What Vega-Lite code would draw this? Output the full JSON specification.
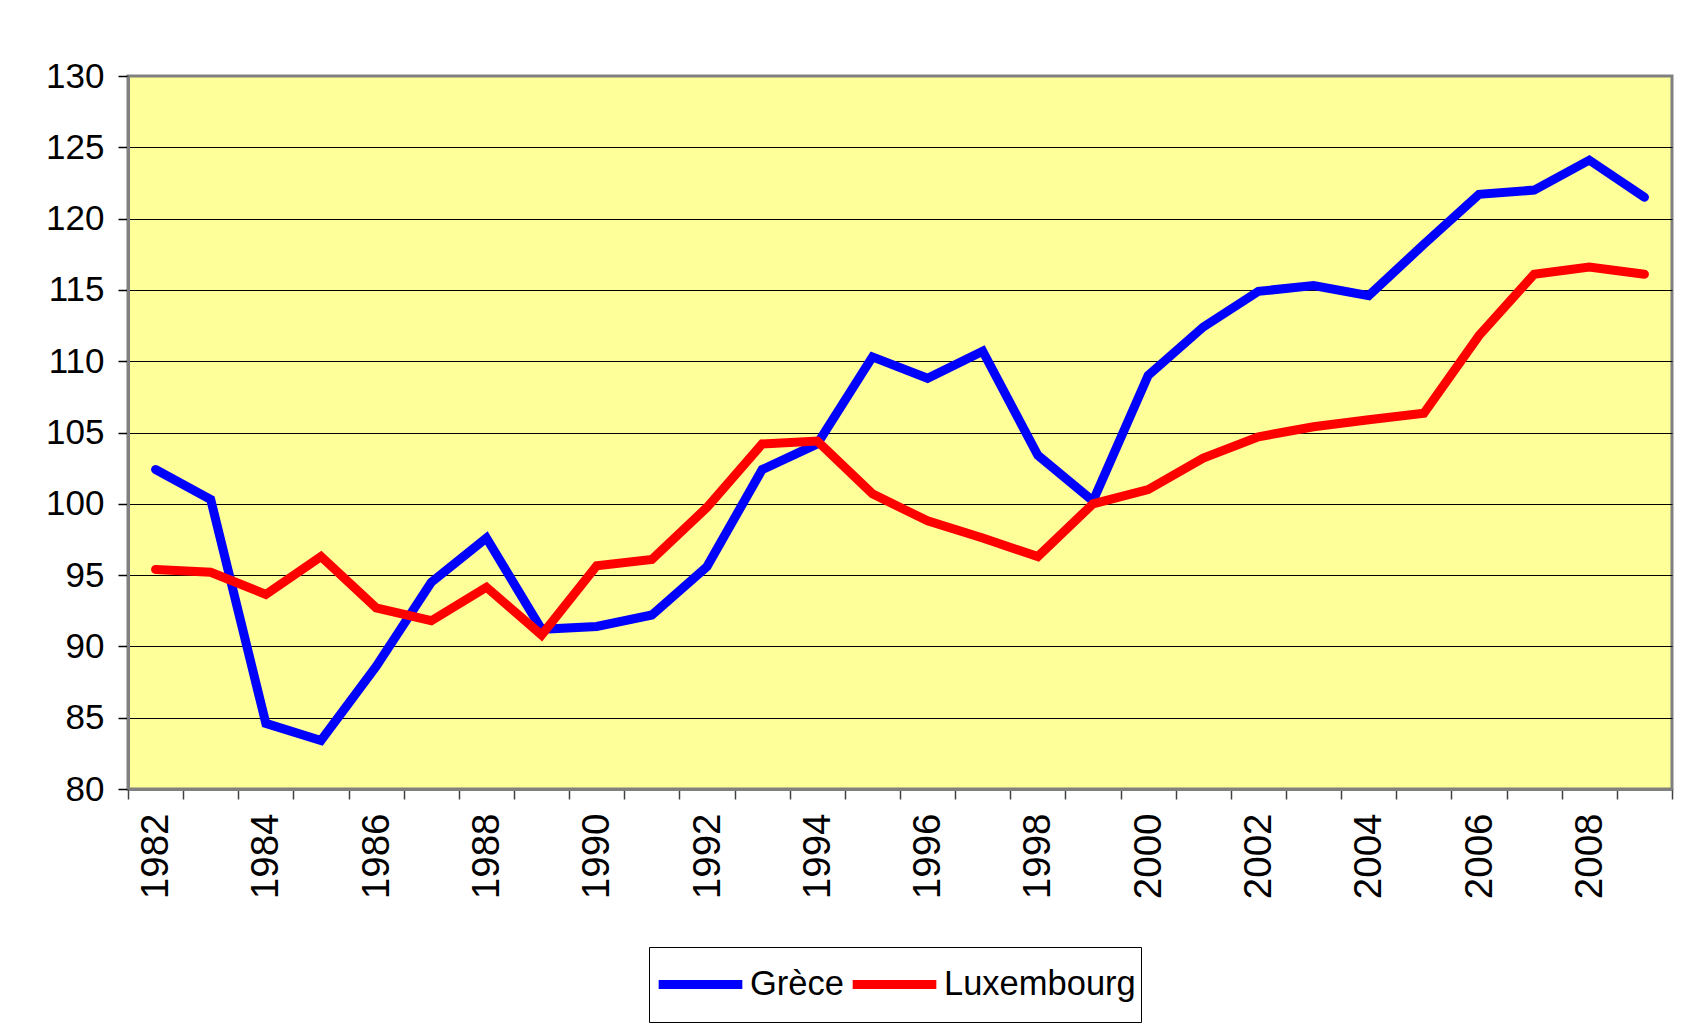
{
  "$schema": "https://vega.github.io/schema/vega-lite/v6.json",
  "width": 1544,
  "height": 713,
  "autosize": {"type": "none"},
  "padding": {"left": 128, "top": 76, "right": 23, "bottom": 243},
  "background": "white",
  "config": {
    "view": {"fill": "#FFFF99", "stroke": "#808080", "strokeWidth": 3},
    "font": "Liberation Sans"
  },
  "datasets": {
    "serie": [
      {"year": 1982, "pays": "Grèce", "value": 102.4},
      {"year": 1983, "pays": "Grèce", "value": 100.3},
      {"year": 1984, "pays": "Grèce", "value": 84.6},
      {"year": 1985, "pays": "Grèce", "value": 83.4},
      {"year": 1986, "pays": "Grèce", "value": 88.6},
      {"year": 1987, "pays": "Grèce", "value": 94.5},
      {"year": 1988, "pays": "Grèce", "value": 97.6},
      {"year": 1989, "pays": "Grèce", "value": 91.2},
      {"year": 1990, "pays": "Grèce", "value": 91.4},
      {"year": 1991, "pays": "Grèce", "value": 92.2},
      {"year": 1992, "pays": "Grèce", "value": 95.6},
      {"year": 1993, "pays": "Grèce", "value": 102.4},
      {"year": 1994, "pays": "Grèce", "value": 104.2},
      {"year": 1995, "pays": "Grèce", "value": 110.3},
      {"year": 1996, "pays": "Grèce", "value": 108.8},
      {"year": 1997, "pays": "Grèce", "value": 110.7},
      {"year": 1998, "pays": "Grèce", "value": 103.4},
      {"year": 1999, "pays": "Grèce", "value": 100.2},
      {"year": 2000, "pays": "Grèce", "value": 109.0},
      {"year": 2001, "pays": "Grèce", "value": 112.4},
      {"year": 2002, "pays": "Grèce", "value": 114.9},
      {"year": 2003, "pays": "Grèce", "value": 115.3},
      {"year": 2004, "pays": "Grèce", "value": 114.6},
      {"year": 2005, "pays": "Grèce", "value": 118.2},
      {"year": 2006, "pays": "Grèce", "value": 121.7},
      {"year": 2007, "pays": "Grèce", "value": 122.0},
      {"year": 2008, "pays": "Grèce", "value": 124.1},
      {"year": 2009, "pays": "Grèce", "value": 121.5},
      {"year": 1982, "pays": "Luxembourg", "value": 95.4},
      {"year": 1983, "pays": "Luxembourg", "value": 95.2},
      {"year": 1984, "pays": "Luxembourg", "value": 93.65},
      {"year": 1985, "pays": "Luxembourg", "value": 96.3},
      {"year": 1986, "pays": "Luxembourg", "value": 92.7},
      {"year": 1987, "pays": "Luxembourg", "value": 91.8},
      {"year": 1988, "pays": "Luxembourg", "value": 94.15},
      {"year": 1989, "pays": "Luxembourg", "value": 90.8},
      {"year": 1990, "pays": "Luxembourg", "value": 95.66},
      {"year": 1991, "pays": "Luxembourg", "value": 96.1},
      {"year": 1992, "pays": "Luxembourg", "value": 99.75},
      {"year": 1993, "pays": "Luxembourg", "value": 104.2},
      {"year": 1994, "pays": "Luxembourg", "value": 104.4},
      {"year": 1995, "pays": "Luxembourg", "value": 100.7},
      {"year": 1996, "pays": "Luxembourg", "value": 98.8},
      {"year": 1997, "pays": "Luxembourg", "value": 97.6},
      {"year": 1998, "pays": "Luxembourg", "value": 96.3},
      {"year": 1999, "pays": "Luxembourg", "value": 100.0},
      {"year": 2000, "pays": "Luxembourg", "value": 101.0},
      {"year": 2001, "pays": "Luxembourg", "value": 103.2},
      {"year": 2002, "pays": "Luxembourg", "value": 104.7},
      {"year": 2003, "pays": "Luxembourg", "value": 105.4},
      {"year": 2004, "pays": "Luxembourg", "value": 105.9},
      {"year": 2005, "pays": "Luxembourg", "value": 106.35},
      {"year": 2006, "pays": "Luxembourg", "value": 111.8},
      {"year": 2007, "pays": "Luxembourg", "value": 116.1},
      {"year": 2008, "pays": "Luxembourg", "value": 116.6},
      {"year": 2009, "pays": "Luxembourg", "value": 116.1}
    ]
  },
  "data": {"name": "serie"},
  "mark": {"type": "line", "strokeWidth": 9, "strokeCap": "round"},
  "encoding": {
    "x": {
      "field": "year",
      "type": "ordinal",
      "bandPosition": 0.5,
      "scale": {"type": "band", "paddingInner": 0, "paddingOuter": 0},
      "axis": {
        "title": null,
        "tickBand": "extent",
        "labelAngle": 270,
        "labelExpr": "datum.value % 2 == 0 ? datum.label : ''",
        "labelOverlap": false,
        "labelFont": "Liberation Sans",
        "labelFontSize": 38.5,
        "labelColor": "black",
        "labelPadding": 14,
        "tickSize": 10,
        "tickColor": "#404040",
        "tickWidth": 1.5,
        "domainColor": "#808080",
        "domainWidth": 3,
        "grid": false
      }
    },
    "y": {
      "field": "value",
      "type": "quantitative",
      "scale": {"domain": [80, 130], "nice": false, "zero": false},
      "axis": {
        "title": null,
        "values": [80, 85, 90, 95, 100, 105, 110, 115, 120, 125, 130],
        "labelFont": "Liberation Sans",
        "labelFontSize": 35,
        "labelColor": "black",
        "labelPadding": 14,
        "tickSize": 10,
        "tickColor": "black",
        "tickWidth": 1.5,
        "domainColor": "#808080",
        "domainWidth": 3,
        "grid": true,
        "gridColor": {"condition": {"test": "datum.value == 80 || datum.value == 130", "value": "#808080"}, "value": "black"},
        "gridWidth": 1,
        "gridOpacity": 1
      }
    },
    "color": {
      "field": "pays",
      "type": "nominal",
      "scale": {"domain": ["Grèce", "Luxembourg"], "range": ["#0000FF", "#FF0000"]},
      "legend": {
        "title": null,
        "orient": "none",
        "legendX": 521,
        "legendY": 871,
        "direction": "horizontal",
        "symbolType": "stroke",
        "symbolSize": 7000,
        "symbolStrokeWidth": 9,
        "labelFont": "Liberation Sans",
        "labelFontSize": 34.5,
        "labelColor": "black",
        "labelLimit": 400,
        "labelOffset": 3,
        "columnPadding": 4,
        "padding": 5,
        "clipHeight": 65,
        "strokeColor": "black",
        "fillColor": "white",
        "cornerRadius": 0
      }
    }
  }
}
